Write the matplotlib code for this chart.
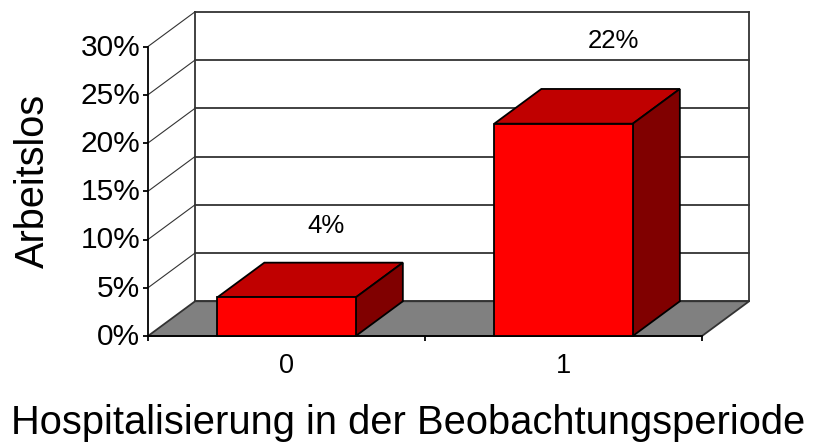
import matplotlib
matplotlib.use("Agg")
import matplotlib.pyplot as plt
from matplotlib.patches import Polygon
from matplotlib.transforms import ScaledTranslation

plt.rcParams['font.family'] = ['Liberation Sans', 'DejaVu Sans']

categories = ['0', '1']
values = [4, 22]
labels = ['4%', '22%']
yticks = [0, 5, 10, 15, 20, 25, 30]

W, H = 818, 443
# depth of the fake 3d box, in data units
DX = 0.17
DY = 3.6
BAR_W = 0.5
LW = 1.3
LINE = '#333333'

fig = plt.figure(figsize=(W/100, H/100), dpi=100)
ax = fig.add_axes([148/W, 1-336/H, 554/W, 289.5/H])
ax.set_xlim(-0.5, 1.5)
ax.set_ylim(0, 30)
ax.patch.set_visible(False)
ax.spines['top'].set_visible(False)
ax.spines['right'].set_visible(False)
ax.spines['left'].set_linewidth(LW)
ax.spines['bottom'].set_linewidth(LW)

x0, x1 = ax.get_xlim()

# floor
ax.add_patch(Polygon([(x0, 0), (x1, 0), (x1+DX, DY), (x0+DX, DY)], closed=True,
                     fc='#808080', ec=LINE, lw=LW, clip_on=False, zorder=1))

# back wall grid and side wall lines
for y in yticks:
    ax.plot([x0+DX, x1+DX], [y+DY, y+DY], color=LINE, lw=LW, clip_on=False, zorder=1)
    if y > 0:
        ax.plot([x0, x0+DX], [y, y+DY], color=LINE, lw=0.8, clip_on=False, zorder=1)
ax.plot([x0+DX, x0+DX], [DY, 30+DY], color=LINE, lw=LW, clip_on=False, zorder=1)
ax.plot([x1+DX, x1+DX], [DY, 30+DY], color=LINE, lw=LW, clip_on=False, zorder=1)

# bars: front, top, side
for i, v in enumerate(values):
    a = i - BAR_W/2
    b = i + BAR_W/2
    ax.add_patch(Polygon([(a, v), (b, v), (b+DX, v+DY), (a+DX, v+DY)], closed=True,
                         fc='#C00000', ec='black', lw=LW, clip_on=False, zorder=3))
    ax.add_patch(Polygon([(b, 0), (b+DX, DY), (b+DX, v+DY), (b, v)], closed=True,
                         fc='#800000', ec='black', lw=LW, clip_on=False, zorder=3))
    ax.add_patch(Polygon([(a, 0), (b, 0), (b, v), (a, v)], closed=True,
                         fc='#FF0000', ec='black', lw=LW, clip_on=False, zorder=4))

ax.annotate(labels[0], (0, values[0]), xytext=(40, 71), textcoords='offset pixels',
            ha='center', va='center', fontsize=18.5, annotation_clip=False)
ax.annotate(labels[1], (1, values[1]), xytext=(50, 83), textcoords='offset pixels',
            ha='center', va='center', fontsize=18.5, annotation_clip=False)

ax.set_yticks(yticks)
ax.set_yticklabels(['{}%'.format(y) for y in yticks], fontsize=21.5)
ax.set_xticks(range(len(categories)))
ax.set_xticklabels(categories, fontsize=19.5)
ax.set_xticks([-0.5, 0.5, 1.5], minor=True)
ax.tick_params(axis='x', which='major', length=0, pad=12)
ax.tick_params(axis='x', which='minor', length=3.5, width=LW)
ax.tick_params(axis='y', length=3.5, width=LW, pad=2)

# y labels sit a little higher than matplotlib centers them
shift = ScaledTranslation(0, 2/100, fig.dpi_scale_trans)
for t in ax.get_yticklabels():
    t.set_transform(t.get_transform() + shift)

fig.text(33/W, 1-181/H, 'Arbeitslos', rotation=90, fontsize=28.6, ha='center', va='center')
fig.text(408/W, 1-423/H, 'Hospitalisierung in der Beobachtungsperiode', fontsize=28.7,
         ha='center', va='center')

fig.savefig('out.png', dpi=100)
